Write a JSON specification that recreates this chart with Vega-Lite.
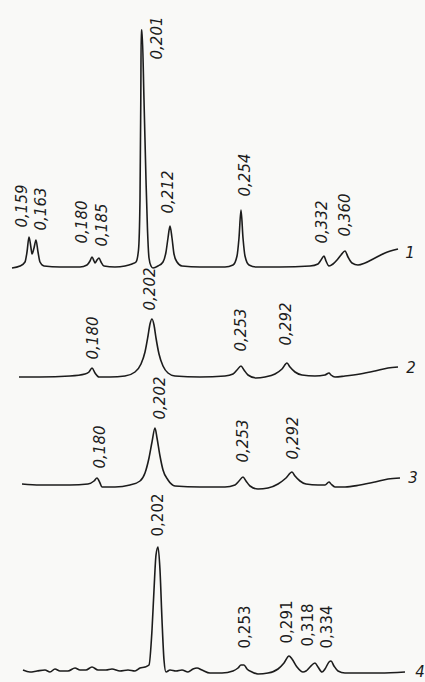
{
  "$schema": "https://vega.github.io/schema/vega-lite/v6.json",
  "width": 425,
  "height": 682,
  "autosize": {"type": "fit", "contains": "padding"},
  "padding": 0,
  "background": "#f9f9f7",
  "config": {"view": {"stroke": null}},
  "datasets": {
    "curves": [
      {"trace":1,"pos":12,"I":414},{"trace":1,"pos":20,"I":416},{"trace":1,"pos":25,"I":420},{"trace":1,"pos":27,"I":430},{"trace":1,"pos":29,"I":445},{"trace":1,"pos":31,"I":434},{"trace":1,"pos":32,"I":428},{"trace":1,"pos":34,"I":434},{"trace":1,"pos":36,"I":442},{"trace":1,"pos":38,"I":430},{"trace":1,"pos":40,"I":420},{"trace":1,"pos":44,"I":416},{"trace":1,"pos":60,"I":415},{"trace":1,"pos":80,"I":415},{"trace":1,"pos":87,"I":417},{"trace":1,"pos":90,"I":421},{"trace":1,"pos":92,"I":425},{"trace":1,"pos":94,"I":421},{"trace":1,"pos":95,"I":419},{"trace":1,"pos":97,"I":422},{"trace":1,"pos":99,"I":424},{"trace":1,"pos":101,"I":420},{"trace":1,"pos":104,"I":416},{"trace":1,"pos":115,"I":415},{"trace":1,"pos":125,"I":416},{"trace":1,"pos":132,"I":418},{"trace":1,"pos":136,"I":420},{"trace":1,"pos":138.5,"I":432},{"trace":1,"pos":140,"I":482},{"trace":1,"pos":140.8,"I":582},{"trace":1,"pos":141.2,"I":652},{"trace":1,"pos":142,"I":652},{"trace":1,"pos":144,"I":582},{"trace":1,"pos":146,"I":502},{"trace":1,"pos":147.5,"I":452},{"trace":1,"pos":149,"I":424},{"trace":1,"pos":151,"I":416},{"trace":1,"pos":153,"I":414},{"trace":1,"pos":158,"I":416},{"trace":1,"pos":163,"I":420},{"trace":1,"pos":166,"I":430},{"trace":1,"pos":168,"I":444},{"trace":1,"pos":170,"I":456},{"trace":1,"pos":172,"I":444},{"trace":1,"pos":174,"I":428},{"trace":1,"pos":177,"I":420},{"trace":1,"pos":182,"I":416},{"trace":1,"pos":200,"I":415},{"trace":1,"pos":225,"I":415},{"trace":1,"pos":233,"I":417},{"trace":1,"pos":237,"I":426},{"trace":1,"pos":239,"I":444},{"trace":1,"pos":241,"I":472},{"trace":1,"pos":243,"I":444},{"trace":1,"pos":245,"I":426},{"trace":1,"pos":249,"I":417},{"trace":1,"pos":256,"I":415},{"trace":1,"pos":280,"I":415},{"trace":1,"pos":310,"I":416},{"trace":1,"pos":318,"I":418},{"trace":1,"pos":321,"I":422},{"trace":1,"pos":324,"I":426},{"trace":1,"pos":326,"I":421},{"trace":1,"pos":329,"I":416},{"trace":1,"pos":333,"I":418},{"trace":1,"pos":337,"I":422},{"trace":1,"pos":341,"I":427},{"trace":1,"pos":345,"I":431},{"trace":1,"pos":348,"I":425},{"trace":1,"pos":352,"I":419},{"trace":1,"pos":358,"I":417},{"trace":1,"pos":365,"I":419},{"trace":1,"pos":375,"I":424},{"trace":1,"pos":385,"I":429},{"trace":1,"pos":398,"I":433},

      {"trace":2,"pos":19,"I":305},{"trace":2,"pos":40,"I":305},{"trace":2,"pos":70,"I":306},{"trace":2,"pos":85,"I":308},{"trace":2,"pos":89,"I":310},{"trace":2,"pos":92,"I":314},{"trace":2,"pos":95,"I":309},{"trace":2,"pos":99,"I":305},{"trace":2,"pos":110,"I":305},{"trace":2,"pos":125,"I":306},{"trace":2,"pos":135,"I":310},{"trace":2,"pos":141,"I":318},{"trace":2,"pos":145,"I":330},{"trace":2,"pos":148,"I":346},{"trace":2,"pos":150,"I":358},{"trace":2,"pos":152,"I":363},{"trace":2,"pos":154,"I":357},{"trace":2,"pos":156,"I":344},{"trace":2,"pos":159,"I":328},{"trace":2,"pos":163,"I":316},{"trace":2,"pos":168,"I":309},{"trace":2,"pos":175,"I":306},{"trace":2,"pos":200,"I":305},{"trace":2,"pos":225,"I":306},{"trace":2,"pos":233,"I":308},{"trace":2,"pos":237,"I":312},{"trace":2,"pos":241,"I":316},{"trace":2,"pos":244,"I":312},{"trace":2,"pos":248,"I":307},{"trace":2,"pos":256,"I":304},{"trace":2,"pos":265,"I":305},{"trace":2,"pos":275,"I":308},{"trace":2,"pos":282,"I":313},{"trace":2,"pos":287,"I":319},{"trace":2,"pos":290,"I":315},{"trace":2,"pos":295,"I":310},{"trace":2,"pos":302,"I":307},{"trace":2,"pos":315,"I":306},{"trace":2,"pos":325,"I":307},{"trace":2,"pos":329,"I":309},{"trace":2,"pos":331,"I":307},{"trace":2,"pos":335,"I":305},{"trace":2,"pos":345,"I":306},{"trace":2,"pos":360,"I":308},{"trace":2,"pos":375,"I":311},{"trace":2,"pos":388,"I":314},{"trace":2,"pos":398,"I":315},

      {"trace":3,"pos":22,"I":198},{"trace":3,"pos":40,"I":197},{"trace":3,"pos":70,"I":197},{"trace":3,"pos":88,"I":198},{"trace":3,"pos":94,"I":201},{"trace":3,"pos":97,"I":204},{"trace":3,"pos":100,"I":199},{"trace":3,"pos":102,"I":195},{"trace":3,"pos":115,"I":195},{"trace":3,"pos":130,"I":197},{"trace":3,"pos":140,"I":201},{"trace":3,"pos":145,"I":209},{"trace":3,"pos":149,"I":224},{"trace":3,"pos":152,"I":240},{"trace":3,"pos":155,"I":254},{"trace":3,"pos":157,"I":244},{"trace":3,"pos":160,"I":226},{"trace":3,"pos":163,"I":212},{"trace":3,"pos":168,"I":202},{"trace":3,"pos":175,"I":196},{"trace":3,"pos":200,"I":195},{"trace":3,"pos":225,"I":195},{"trace":3,"pos":235,"I":197},{"trace":3,"pos":239,"I":201},{"trace":3,"pos":243,"I":205},{"trace":3,"pos":246,"I":201},{"trace":3,"pos":250,"I":196},{"trace":3,"pos":258,"I":193},{"trace":3,"pos":268,"I":194},{"trace":3,"pos":278,"I":198},{"trace":3,"pos":286,"I":204},{"trace":3,"pos":292,"I":210},{"trace":3,"pos":295,"I":206},{"trace":3,"pos":300,"I":201},{"trace":3,"pos":306,"I":198},{"trace":3,"pos":318,"I":197},{"trace":3,"pos":325,"I":197},{"trace":3,"pos":329,"I":200},{"trace":3,"pos":331,"I":198},{"trace":3,"pos":335,"I":195},{"trace":3,"pos":345,"I":195},{"trace":3,"pos":360,"I":197},{"trace":3,"pos":375,"I":200},{"trace":3,"pos":388,"I":203},{"trace":3,"pos":400,"I":204},

      {"trace":4,"pos":23,"I":12},{"trace":4,"pos":30,"I":10},{"trace":4,"pos":37,"I":11},{"trace":4,"pos":45,"I":12},{"trace":4,"pos":50,"I":10},{"trace":4,"pos":55,"I":13},{"trace":4,"pos":60,"I":11},{"trace":4,"pos":68,"I":11},{"trace":4,"pos":75,"I":14},{"trace":4,"pos":80,"I":12},{"trace":4,"pos":86,"I":12},{"trace":4,"pos":92,"I":15},{"trace":4,"pos":98,"I":12},{"trace":4,"pos":106,"I":12},{"trace":4,"pos":112,"I":13},{"trace":4,"pos":120,"I":11},{"trace":4,"pos":128,"I":12},{"trace":4,"pos":135,"I":11},{"trace":4,"pos":140,"I":14},{"trace":4,"pos":145,"I":15},{"trace":4,"pos":149,"I":17},{"trace":4,"pos":152,"I":52},{"trace":4,"pos":154,"I":92},{"trace":4,"pos":156,"I":127},{"trace":4,"pos":158,"I":135},{"trace":4,"pos":160,"I":112},{"trace":4,"pos":162,"I":62},{"trace":4,"pos":164,"I":22},{"trace":4,"pos":166,"I":10},{"trace":4,"pos":170,"I":12},{"trace":4,"pos":176,"I":11},{"trace":4,"pos":182,"I":12},{"trace":4,"pos":188,"I":10},{"trace":4,"pos":193,"I":13},{"trace":4,"pos":197,"I":14},{"trace":4,"pos":202,"I":12},{"trace":4,"pos":210,"I":9},{"trace":4,"pos":222,"I":9},{"trace":4,"pos":233,"I":11},{"trace":4,"pos":238,"I":14},{"trace":4,"pos":241,"I":17},{"trace":4,"pos":244,"I":17},{"trace":4,"pos":247,"I":13},{"trace":4,"pos":252,"I":10},{"trace":4,"pos":258,"I":8},{"trace":4,"pos":268,"I":9},{"trace":4,"pos":278,"I":13},{"trace":4,"pos":284,"I":19},{"trace":4,"pos":289,"I":26},{"trace":4,"pos":292,"I":23},{"trace":4,"pos":297,"I":15},{"trace":4,"pos":303,"I":10},{"trace":4,"pos":306,"I":11},{"trace":4,"pos":310,"I":15},{"trace":4,"pos":315,"I":19},{"trace":4,"pos":318,"I":15},{"trace":4,"pos":322,"I":10},{"trace":4,"pos":325,"I":13},{"trace":4,"pos":329,"I":20},{"trace":4,"pos":331,"I":21},{"trace":4,"pos":334,"I":16},{"trace":4,"pos":338,"I":11},{"trace":4,"pos":345,"I":9},{"trace":4,"pos":360,"I":9},{"trace":4,"pos":380,"I":9},{"trace":4,"pos":405,"I":10}
    ],
    "labels": [
      {"trace":1,"pos":22,"I":476,"text":"0,159"},
      {"trace":1,"pos":41,"I":473,"text":"0,163"},
      {"trace":1,"pos":82,"I":460,"text":"0,180"},
      {"trace":1,"pos":102,"I":457,"text":"0,185"},
      {"trace":1,"pos":157,"I":644,"text":"0,201"},
      {"trace":1,"pos":168,"I":490,"text":"0,212"},
      {"trace":1,"pos":245,"I":507,"text":"0,254"},
      {"trace":1,"pos":322,"I":460,"text":"0,332"},
      {"trace":1,"pos":345,"I":467,"text":"0,360"},
      {"trace":2,"pos":93,"I":344,"text":"0,180"},
      {"trace":2,"pos":150,"I":393,"text":"0,202"},
      {"trace":2,"pos":241,"I":352,"text":"0,253"},
      {"trace":2,"pos":286,"I":358,"text":"0,292"},
      {"trace":3,"pos":100,"I":235,"text":"0,180"},
      {"trace":3,"pos":160,"I":284,"text":"0,202"},
      {"trace":3,"pos":243,"I":241,"text":"0,253"},
      {"trace":3,"pos":293,"I":244,"text":"0,292"},
      {"trace":4,"pos":158,"I":167,"text":"0,202"},
      {"trace":4,"pos":245,"I":55,"text":"0,253"},
      {"trace":4,"pos":287,"I":60,"text":"0,291"},
      {"trace":4,"pos":308,"I":57,"text":"0,318"},
      {"trace":4,"pos":327,"I":55,"text":"0,334"}
    ],
    "traces": [
      {"trace":1,"pos":410,"I":429,"text":"1"},
      {"trace":2,"pos":411,"I":314,"text":"2"},
      {"trace":3,"pos":413,"I":204,"text":"3"},
      {"trace":4,"pos":420,"I":10,"text":"4"}
    ]
  },
  "encoding": {
    "x": {"field": "pos", "type": "quantitative", "scale": {"domain": [0, 425], "nice": false, "zero": false}, "axis": null},
    "y": {"field": "I", "type": "quantitative", "scale": {"domain": [0, 682], "nice": false, "zero": false}, "axis": null}
  },
  "layer": [
    {
      "data": {"name": "curves"},
      "mark": {"type": "line", "color": "#1c1c1c", "strokeWidth": 1.6, "interpolate": "monotone"},
      "encoding": {"detail": {"field": "trace", "type": "nominal"}}
    },
    {
      "data": {"name": "labels"},
      "transform": [{"filter": "datum.trace < 4"}],
      "mark": {"type": "text", "angle": 270, "font": "DejaVu Sans", "fontStyle": "italic", "fontSize": 15, "color": "#1c1c1c", "align": "center", "baseline": "middle"},
      "encoding": {"text": {"field": "text"}}
    },
    {
      "data": {"name": "labels"},
      "transform": [{"filter": "datum.trace == 4"}],
      "mark": {"type": "text", "angle": 270, "font": "DejaVu Sans", "fontSize": 15, "color": "#1c1c1c", "align": "center", "baseline": "middle"},
      "encoding": {"text": {"field": "text"}}
    },
    {
      "data": {"name": "traces"},
      "mark": {"type": "text", "font": "DejaVu Sans", "fontStyle": "italic", "fontSize": 15, "color": "#1c1c1c", "align": "center", "baseline": "middle"},
      "encoding": {"text": {"field": "text"}}
    }
  ]
}
